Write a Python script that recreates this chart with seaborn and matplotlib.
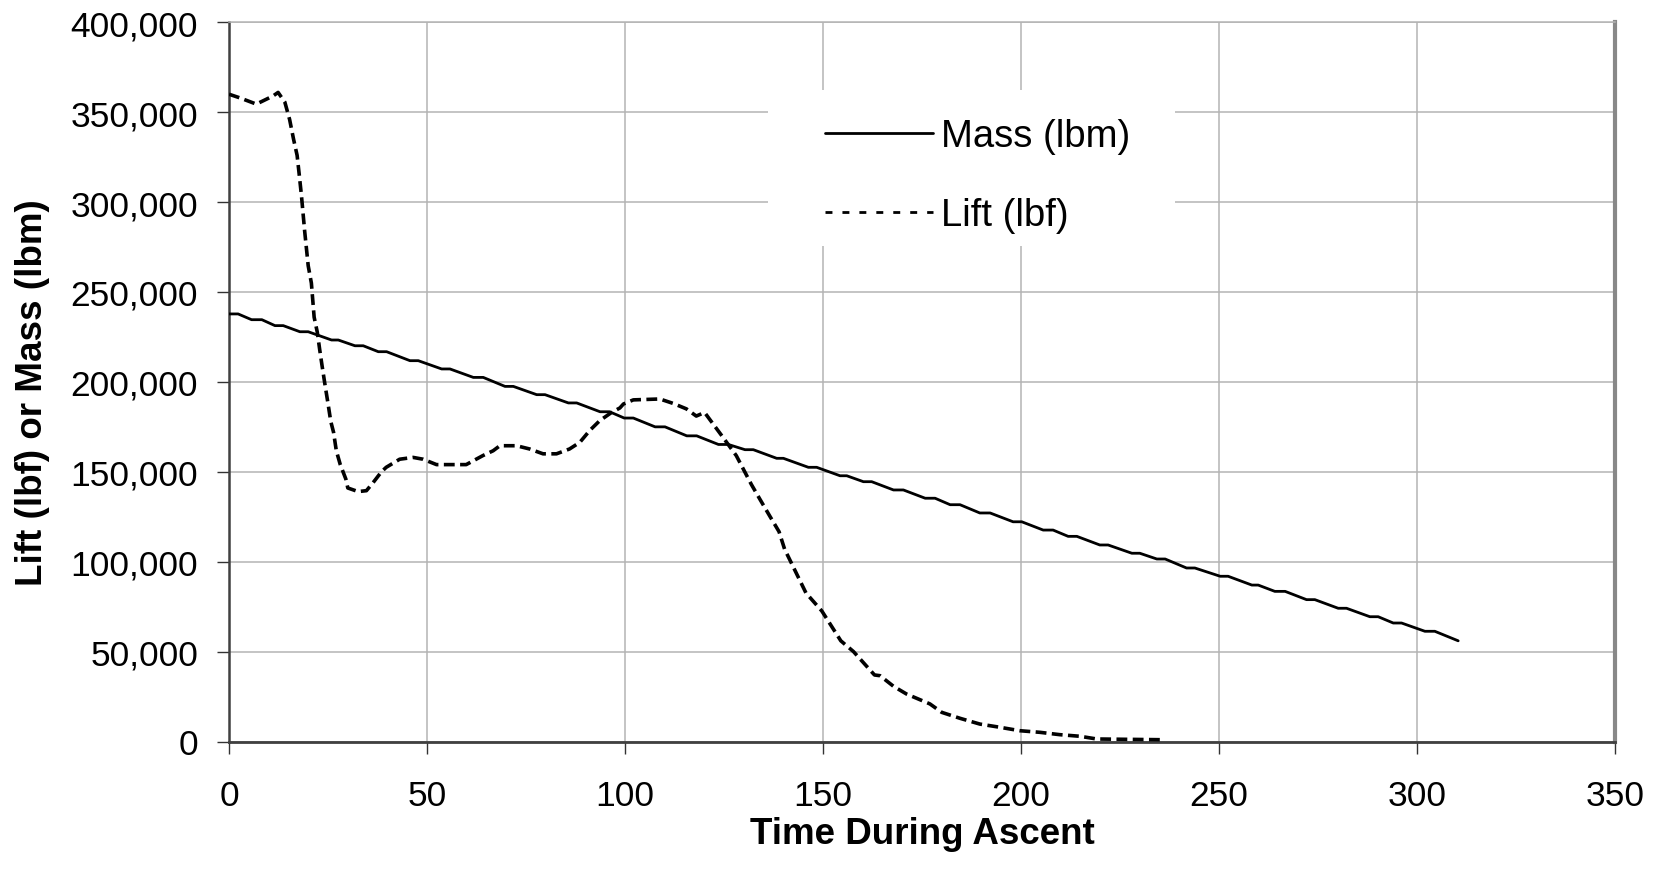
import matplotlib
matplotlib.use("Agg")
import matplotlib.pyplot as plt
import seaborn as sns
import pandas as pd
from matplotlib.lines import Line2D
from matplotlib.patches import Rectangle
from matplotlib.ticker import FuncFormatter, MultipleLocator

# ---------------- data ----------------
mass_time = [0, 2.3, 5.7, 8.3, 11.6, 13.7, 17.9, 20.0, 25.9, 27.6, 31.8, 33.9,
             37.7, 39.8, 45.7, 47.8, 53.7, 55.8, 61.7, 64.2, 69.7, 71.8, 77.7, 79.8,
             85.7, 87.8, 93.7, 96.1, 99.8, 102.1, 107.6, 110.1, 115.6, 118.1,
             123.6, 126.1, 130.3, 132.4, 138.3, 140.0, 146.3, 148.4, 154.3, 156.0,
             160.2, 162.3, 167.8, 170.3, 175.8, 178.3, 182.1, 184.6, 189.6, 192.2,
             198.0, 200.2, 205.6, 208.1, 211.9, 214.1, 219.9, 222.0, 228.0, 230.0,
             234.3, 236.4, 241.8, 243.9, 250.3, 252.3, 258.3, 259.9, 264.1, 266.7,
             272.1, 274.2, 280.1, 282.2, 288.1, 290.2, 294.0, 296.1, 302.0, 304.5,
             310.4]
mass_lbm = [237800, 237800, 234600, 234600, 231300, 231300, 227900, 227900,
            223300, 223300, 220100, 220100, 216800, 216800, 211800, 211800,
            207200, 207200, 202500, 202500, 197500, 197500, 192900, 192900,
            188300, 188300, 183400, 183400, 179900, 179900, 175000, 175000,
            170000, 170000, 165200, 165200, 162300, 162300, 157500, 157500,
            152500, 152500, 147800, 147800, 144500, 144500, 139900, 139900,
            135300, 135300, 131700, 131700, 127100, 127100, 122200, 122200,
            117600, 117600, 114100, 114100, 109300, 109300, 104700, 104700,
            101500, 101500, 96500, 96500, 91900, 91900, 87000, 87000,
            83500, 83500, 78900, 78900, 74100, 74100, 69400, 69400,
            65900, 65900, 61300, 61300, 56000]

lift_time = [0, 2.7, 6.9, 11.1, 12.4, 14.1, 15.3, 16.3, 17.2, 17.7, 18.3, 19.1,
             20.0, 20.8, 21.5, 22.3, 22.9, 23.5, 24.2, 25.0, 25.7, 26.4, 27.1,
             28.1, 29.5, 30.0, 32.6, 34.7, 36.4, 38.5, 39.7, 43.1, 46.5, 49.0,
             52.4, 56.6, 59.9, 64.1, 66.7, 68.4, 72.6, 75.9, 79.3, 82.7, 86.0,
             88.6, 91.1, 93.6, 96.6, 98.7, 99.6, 102.1, 108.8, 112.2, 115.5,
             118.0, 120.1, 124.8, 128.1, 131.9, 134.0, 136.5, 138.9, 140.3,
             145.7, 149.7, 154.5, 157.7, 163.0, 164.4, 167.8, 171.1, 177.0,
             180.0, 184.6, 189.6, 194.7, 199.7, 204.8, 209.8, 214.9, 219.1, 235.1]
lift_lbf = [360000, 358000, 354500, 359000, 361000, 355600, 346000, 335000,
            326000, 316000, 303500, 284000, 264600, 255000, 236000, 227600,
            218000, 209000, 199000, 188000, 178000, 172000, 161700, 154000,
            146000, 141000, 139000, 139500, 144000, 150000, 152500, 157000,
            158000, 157000, 154000, 154000, 154000, 159000, 161700, 164500,
            164500, 162700, 160000, 160000, 162700, 166400, 173000, 178400,
            183000, 185500, 187700, 190000, 190500, 188000, 185000, 181000,
            183000, 169000, 159000, 143000, 135000, 125600, 116700, 107000,
            82600, 72600, 56000, 50000, 37000, 36600, 30700, 26400, 20900,
            16200, 12900, 9700, 7900, 6000, 5100, 3800, 2900, 1400, 1000]

series_labels = ["Mass (lbm)", "Lift (lbf)"]
x_label = "Time During Ascent"
y_label = "Lift (lbf) or Mass (lbm)"

# ---------------- style ----------------
sns.set_style("white")
plt.rcParams["font.family"] = ["Liberation Sans", "DejaVu Sans"]
plt.rcParams["text.color"] = "black"
plt.rcParams["axes.labelcolor"] = "black"
plt.rcParams["xtick.color"] = "black"
plt.rcParams["ytick.color"] = "black"

fig = plt.figure(figsize=(16.63, 8.87), dpi=100)
ax = fig.add_axes([229 / 1663, 1 - 742.5 / 887, 1386 / 1663, 719.2 / 887])

mass_df = pd.DataFrame({"t": mass_time, "v": mass_lbm})
lift_df = pd.DataFrame({"t": lift_time, "v": lift_lbf})

sns.lineplot(data=mass_df, x="t", y="v", ax=ax, color="black", lw=2.0,
             estimator=None, sort=False, legend=False, zorder=3)
sns.lineplot(data=lift_df, x="t", y="v", ax=ax, color="black", lw=2.6,
             linestyle=(0, (3.0, 1.5)), estimator=None, sort=False,
             legend=False, zorder=3)

ax.set_xlim(0, 350)
ax.set_ylim(0, 400000)
ax.xaxis.set_major_locator(MultipleLocator(50))
ax.yaxis.set_major_locator(MultipleLocator(50000))
ax.yaxis.set_major_formatter(FuncFormatter(lambda v, p: f"{int(v):,}"))

ax.grid(True, color="#b4b4b4", lw=1.1)
ax.set_axisbelow(True)

ax.tick_params(axis="both", which="major", direction="out", length=8.3,
               width=1.0, color="#333333", labelsize=25.5, bottom=True,
               left=True, labelcolor="black")
ax.tick_params(axis="x", pad=19)
ax.tick_params(axis="y", pad=14)

ax.spines["left"].set_color("#404040")
ax.spines["left"].set_linewidth(1.8)
ax.spines["bottom"].set_color("#404040")
ax.spines["bottom"].set_linewidth(2.0)
ax.spines["right"].set_color("#888888")
ax.spines["right"].set_linewidth(3.0)
ax.spines["top"].set_color("#b4b4b4")
ax.spines["top"].set_linewidth(1.1)

ax.set_xlabel(x_label, fontsize=26.5, fontweight="bold", color="black")
ax.set_ylabel(y_label, fontsize=26.5, fontweight="bold", color="black")
ax.xaxis.set_label_coords(0.5, -0.103)
ax.yaxis.set_label_coords(-0.129, 0.487)

# legend background (hides gridlines behind the legend)
ax.add_patch(Rectangle((0.3887, 0.6885), 0.2938, 0.2178, transform=ax.transAxes,
                       facecolor="white", edgecolor="none", zorder=1.5))

handles = [Line2D([], [], color="black", lw=2.0),
           Line2D([], [], color="black", lw=2.0, linestyle=(0, (2.5, 3.6)))]
ax.legend(handles, series_labels, loc="center left",
          bbox_to_anchor=(0.430, 0.787), frameon=False, fontsize=27.5,
          handlelength=2.83, handletextpad=0.22, labelspacing=1.12,
          borderpad=0, borderaxespad=0, labelcolor="black")

fig.savefig("out.png", dpi=100)
